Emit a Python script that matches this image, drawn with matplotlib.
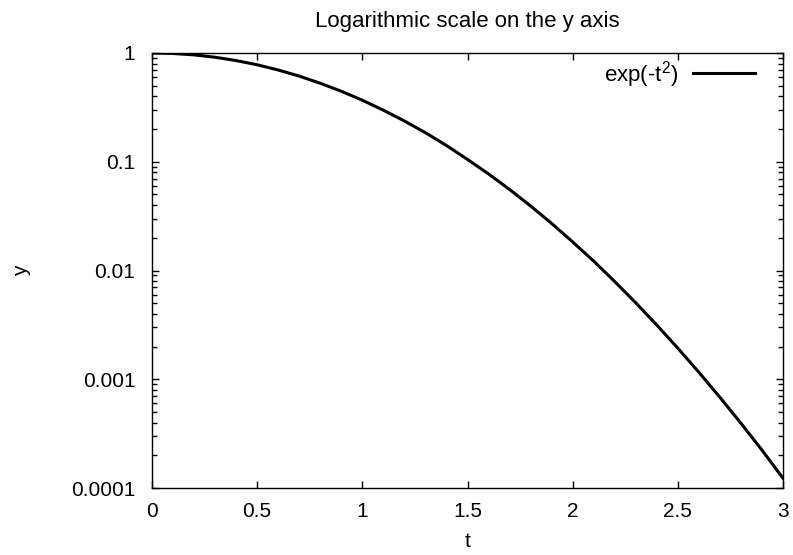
import matplotlib
matplotlib.use('Agg')
import matplotlib.pyplot as plt
from matplotlib.ticker import LogLocator, FixedLocator

plt.rcParams['font.family'] = ['Liberation Sans', 'DejaVu Sans']
plt.rcParams['mathtext.fontset'] = 'custom'
plt.rcParams['mathtext.rm'] = 'Liberation Sans'
plt.rcParams['mathtext.it'] = 'Liberation Sans'

# values
t = [0.0, 0.1, 0.2, 0.3, 0.4, 0.5, 0.6, 0.7, 0.8, 0.9, 1.0,
     1.1, 1.2, 1.3, 1.4, 1.5, 1.6, 1.7, 1.8, 1.9, 2.0,
     2.1, 2.2, 2.3, 2.4, 2.5, 2.6, 2.7, 2.8, 2.9, 3.0]
y = [1.0, 0.990, 0.961, 0.914, 0.852, 0.779, 0.698, 0.613, 0.527, 0.445, 0.368,
     0.298, 0.237, 0.185, 0.141, 0.105, 0.0773, 0.0556, 0.0392, 0.0271, 0.0183,
     0.0122, 0.00791, 0.00504, 0.00315, 0.00193, 0.00116, 0.000682, 0.000394, 0.000223, 0.000123]

x_ticks = [0, 0.5, 1, 1.5, 2, 2.5, 3]
x_labels = ['0', '0.5', '1', '1.5', '2', '2.5', '3']
y_ticks = [1e-4, 1e-3, 1e-2, 1e-1, 1]
y_labels = ['0.0001', '0.001', '0.01', '0.1', '1']

fig = plt.figure(figsize=(7.93, 5.55), dpi=100)
ax = fig.add_axes([152/793, 1 - 488/555, 631/793, 435/555])

ax.plot(t, y, color='black', linewidth=2.2, label='exp(-t$^2$)')
ax.set_yscale('log')
ax.set_xlim(0, 3)
ax.set_ylim(1e-4, 1)

ax.set_xticks(x_ticks)
ax.set_xticklabels(x_labels)
ax.yaxis.set_major_locator(FixedLocator(y_ticks))
ax.set_yticklabels(y_labels)
ax.yaxis.set_minor_locator(LogLocator(base=10, subs=range(2, 10), numticks=20))
ax.yaxis.set_minor_formatter(plt.NullFormatter())

ax.tick_params(which='major', direction='in', length=5.3, width=1, top=True, right=True,
               labelsize=15)
ax.tick_params(axis='x', pad=10)
ax.tick_params(axis='y', pad=12)
ax.tick_params(which='minor', direction='in', length=3.6, width=1, right=True)
ax.tick_params(axis='x', which='minor', bottom=False, top=False)
for s in ax.spines.values():
    s.set_linewidth(1.0)

ax.set_title('Logarithmic scale on the y axis', fontsize=16, pad=19)
ax.set_xlabel('t', fontsize=15, labelpad=8)
ax.set_ylabel('y', fontsize=15)
ax.yaxis.set_label_coords(-0.192, 0.5)

ax.legend(loc='upper right', bbox_to_anchor=(0.970, 1.007), frameon=False,
          markerfirst=False, fontsize=16, handlelength=2.8, handletextpad=0.68,
          borderaxespad=0)

fig.savefig('out.png', dpi=100)
